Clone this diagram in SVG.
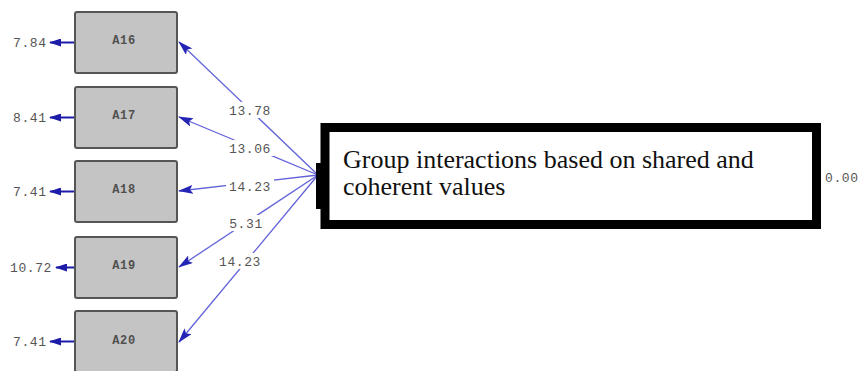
<svg xmlns="http://www.w3.org/2000/svg" width="858" height="371" viewBox="0 0 858 371">
<style>
.box{fill:#c4c4c4;stroke:#555;stroke-width:2}
.bl{font-family:"Liberation Mono",monospace;font-size:12px;font-weight:bold;fill:#505050;text-anchor:middle;letter-spacing:0.6px}
.num{font-family:"Liberation Mono",monospace;font-size:13px;fill:#555;letter-spacing:0.6px}
.lab{font-family:"Liberation Mono",monospace;font-size:13px;fill:#555;letter-spacing:0.6px;text-anchor:middle}
.bg{fill:#fff}
.ln{stroke:#6262d8;stroke-width:1.3;fill:none}
.err{stroke:#1c1ca8;stroke-width:2;fill:none}
.main{font-family:"Liberation Serif",serif;font-size:26px;fill:#111}
</style>
<defs>
<marker id="ah" viewBox="0 0 15 9" refX="14" refY="4.5" markerWidth="15" markerHeight="9" markerUnits="userSpaceOnUse" orient="auto">
<path d="M0,0 L15,4.5 L0,9 L3,4.5 Z" fill="#2525b5"/>
</marker>
<marker id="eh" viewBox="0 0 12 8" refX="11" refY="4" markerWidth="12" markerHeight="8" markerUnits="userSpaceOnUse" orient="auto">
<path d="M0,0 L12,4 L0,8 Z" fill="#1c1ca8"/>
</marker>
</defs>
<rect width="858" height="371" fill="#fff"/>
<g id="connectors">
<line class="ln" x1="318" y1="175" x2="179" y2="42" marker-end="url(#ah)"/>
<line class="ln" x1="318" y1="175" x2="179" y2="117" marker-end="url(#ah)"/>
<line class="ln" x1="318" y1="175" x2="179" y2="191" marker-end="url(#ah)"/>
<line class="ln" x1="318" y1="175" x2="179" y2="267" marker-end="url(#ah)"/>
<line class="ln" x1="318" y1="175" x2="179" y2="342" marker-end="url(#ah)"/>
<line class="err" x1="75" y1="42.5" x2="50" y2="42.5" marker-end="url(#eh)"/>
<line class="err" x1="75" y1="117.5" x2="50" y2="117.5" marker-end="url(#eh)"/>
<line class="err" x1="75" y1="191.5" x2="50" y2="191.5" marker-end="url(#eh)"/>
<line class="err" x1="75" y1="267.5" x2="56" y2="267.5" marker-end="url(#eh)"/>
<line class="err" x1="75" y1="341.5" x2="50" y2="341.5" marker-end="url(#eh)"/>
<rect class="bg" x="226" y="102" width="48" height="16"/>
<rect class="bg" x="226" y="140" width="48" height="16"/>
<rect class="bg" x="226" y="178" width="48" height="16"/>
<rect class="bg" x="226" y="215" width="40" height="16"/>
<rect class="bg" x="216" y="253" width="48" height="16"/>
<text class="lab" x="250" y="115">13.78</text>
<text class="lab" x="250" y="153">13.06</text>
<text class="lab" x="250" y="191">14.23</text>
<text class="lab" x="246" y="228">5.31</text>
<text class="lab" x="240" y="266">14.23</text>
</g>
<g id="A16"><rect class="box" x="75" y="12" width="102" height="61" rx="2"/><text class="bl" x="124" y="44">A16</text><text class="num" x="13" y="47">7.84</text></g>
<g id="A17"><rect class="box" x="75" y="87" width="102" height="61" rx="2"/><text class="bl" x="124" y="119">A17</text><text class="num" x="13" y="122">8.41</text></g>
<g id="A18"><rect class="box" x="75" y="161" width="102" height="61" rx="2"/><text class="bl" x="124" y="193">A18</text><text class="num" x="13" y="196">7.41</text></g>
<g id="A19"><rect class="box" x="75" y="237" width="102" height="61" rx="2"/><text class="bl" x="124" y="269">A19</text><text class="num" x="10" y="272">10.72</text></g>
<g id="A20"><rect class="box" x="75" y="311" width="102" height="61" rx="2"/><text class="bl" x="124" y="344">A20</text><text class="num" x="13" y="346">7.41</text></g>
<g id="latent">
<rect x="316" y="163" width="5" height="46" fill="#000"/>
<rect x="325" y="127.5" width="491.5" height="97" fill="#fff" stroke="#000" stroke-width="9"/>
<text class="main" x="343" y="168">Group interactions based on shared and</text>
<text class="main" x="343" y="195">coherent values</text>
<text class="num" x="825" y="182">0.00</text>
</g>
</svg>
